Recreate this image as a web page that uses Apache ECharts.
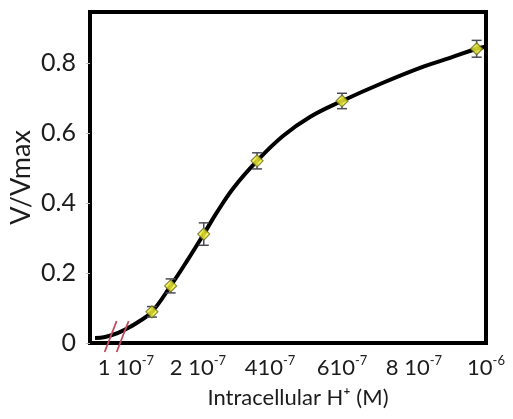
<!DOCTYPE html>
<html>
<head>
<meta charset="utf-8">
<script src="https://cdn.jsdelivr.net/npm/echarts@6/dist/echarts.min.js"></script>
<style>
html,body{margin:0;padding:0;background:#fff;}
#chart{width:513px;height:419px;}
</style>
</head>
<body>
<div id="chart"></div>
<script>
// x axis is drawn in evenly spaced "label slots" (as in the original figure)
const tickSlots = [0, 1, 2, 3, 4, 5];
const tickBase = ['1 10', '2 10', '410', '610', '8 10', '10'];
const tickExp = ['-7', '-7', '-7', '-7', '-7', '-6'];
const yTicks = [0, 0.2, 0.4, 0.6, 0.8];

// measured points (x in label slots, y = V/Vmax)
const pointX = [0.36, 0.62, 1.08, 1.82, 3.0, 4.87];
const pointY = [0.089, 0.163, 0.311, 0.52, 0.691, 0.84];
const pointErr = [0.015, 0.02, 0.032, 0.023, 0.022, 0.024];

// fitted curve
const curveX = [-0.43, -0.29, -0.11, 0.03, 0.17, 0.36, 0.62, 0.85, 1.08, 1.26, 1.49, 1.82, 2.18, 2.56, 3.0, 3.57, 4.13, 4.5, 4.87, 4.99];
const curveY = [0.014, 0.017, 0.029, 0.043, 0.06, 0.089, 0.163, 0.235, 0.311, 0.372, 0.442, 0.52, 0.591, 0.646, 0.691, 0.743, 0.789, 0.814, 0.84, 0.846];

// axis break mark location
const breakAt = [-0.13, 0.02];

const FONT = 'Lato';
const TXT = '#1c1c1c';
const chart = echarts.init(document.getElementById('chart'));

const option = {
  backgroundColor: '#fff',
  animation: false,
  grid: {
    left: 90, top: 12, right: 27, bottom: 76,
    outerBoundsMode: 'none', containLabel: false,
    show: true, borderColor: '#000', borderWidth: 4, backgroundColor: 'transparent'
  },
  xAxis: {
    type: 'value', min: -0.5, max: 5,
    name: 'Intracellular H\u207A (M)',
    nameLocation: 'middle', nameGap: 44, nameMoveOverlap: false,
    nameTextStyle: { fontFamily: FONT, fontSize: 22, color: TXT, padding: [0, 0, 0, 20] },
    splitLine: { show: false },
    axisLine: { show: true, onZero: false, lineStyle: { color: '#000', width: 4 } },
    axisTick: { show: false, customValues: tickSlots },
    axisLabel: {
      customValues: tickSlots,
      margin: 11,
      showMaxLabel: true,
      formatter: function (v) {
        const i = tickSlots.indexOf(Math.round(v));
        if (i < 0) return '';
        return '{b|' + tickBase[i] + '}{s|' + tickExp[i] + '}';
      },
      rich: {
        b: { fontFamily: FONT, fontSize: 22, color: TXT, lineHeight: 25, verticalAlign: 'bottom' },
        s: { fontFamily: FONT, fontSize: 13, color: TXT, lineHeight: 25, verticalAlign: 'top' }
      }
    }
  },
  yAxis: {
    type: 'value', min: 0, max: 0.945,
    name: 'V/Vmax',
    nameLocation: 'middle', nameGap: 55, nameMoveOverlap: false,
    nameTextStyle: { fontFamily: FONT, fontSize: 27, color: TXT },
    splitLine: { show: false },
    axisLine: { show: true, onZero: false, lineStyle: { color: '#000', width: 4 } },
    axisTick: { show: true, customValues: yTicks, length: 4, lineStyle: { color: '#bbb', width: 1 } },
    axisLabel: {
      customValues: yTicks,
      margin: 14,
      fontFamily: FONT, fontSize: 25, color: TXT,
      formatter: function (v) { return v === 0 ? '0' : v.toFixed(1); }
    }
  },
  series: [
    {
      type: 'line', name: 'fit',
      data: curveX.map((x, i) => [x, curveY[i]]),
      smooth: 0.4, showSymbol: false, symbol: 'none',
      lineStyle: { color: '#000', width: 4 },
      z: 2
    },
    {
      type: 'custom', name: 'break',
      data: [breakAt],
      renderItem: function (params, api) {
        const c = api.coord([api.value(0), api.value(1)]);
        const st = { stroke: '#c4485c', lineWidth: 1.8 };
        return {
          type: 'group',
          children: [-6, 6].map(dx => ({
            type: 'line',
            shape: { x1: c[0] + dx - 6, y1: c[1] + 16, x2: c[0] + dx + 6, y2: c[1] - 15 },
            style: st
          }))
        };
      },
      z: 3
    },
    {
      type: 'custom', name: 'err',
      data: pointX.map((x, i) => [x, pointY[i], pointErr[i]]),
      renderItem: function (params, api) {
        const x = api.value(0), y = api.value(1), e = api.value(2);
        const hi = api.coord([x, y + e]);
        const lo = api.coord([x, y - e]);
        const st = { stroke: '#4a4a55', lineWidth: 1.5 };
        return {
          type: 'group',
          children: [
            { type: 'line', shape: { x1: hi[0], y1: hi[1], x2: lo[0], y2: lo[1] }, style: st },
            { type: 'line', shape: { x1: hi[0] - 5, y1: hi[1], x2: hi[0] + 5, y2: hi[1] }, style: st },
            { type: 'line', shape: { x1: lo[0] - 5, y1: lo[1], x2: lo[0] + 5, y2: lo[1] }, style: st }
          ]
        };
      },
      z: 4
    },
    {
      type: 'scatter', name: 'data',
      data: pointX.map((x, i) => [x, pointY[i]]),
      symbol: 'diamond', symbolSize: 12,
      itemStyle: { color: '#f2f230', borderColor: '#6a6a20', borderWidth: 1.2 },
      z: 5
    }
  ]
};
chart.setOption(option);
</script>
</body>
</html>
